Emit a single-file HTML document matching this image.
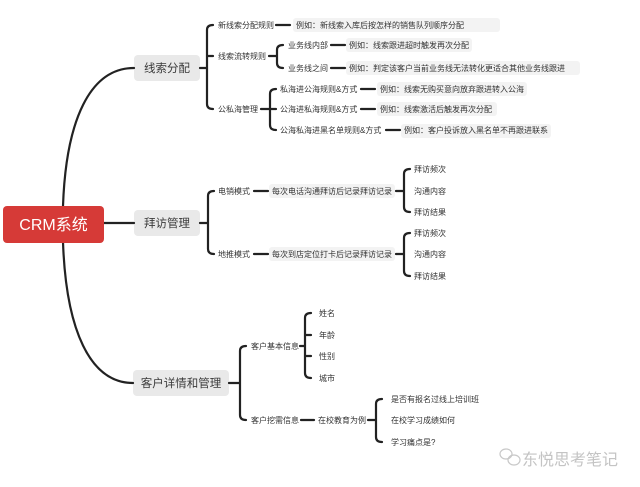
<!DOCTYPE html>
<html><head><meta charset="utf-8"><style>
html,body{margin:0;padding:0;background:#fff;}
svg{display:block;}
text{font-family:"Liberation Sans","Noto Sans CJK SC",sans-serif;fill:#333;}
.s{font-size:8px;}
.l1{font-size:11.5px;fill:#3a3a3a;}
</style></head><body>
<svg width="640" height="487" viewBox="0 0 640 487" xmlns="http://www.w3.org/2000/svg">
<g fill="#f3f3f3">
<rect x="134" y="55" width="66" height="26" rx="4" fill="#e9e9e9"/>
<rect x="134" y="210" width="66" height="26" rx="4" fill="#e9e9e9"/>
<rect x="133" y="370" width="96" height="26" rx="4" fill="#e9e9e9"/>
<rect x="293" y="18" width="207" height="14" rx="3"/>
<rect x="346" y="38" width="126" height="14" rx="3"/>
<rect x="346" y="61" width="234" height="14" rx="3"/>
<rect x="377" y="82" width="150" height="14" rx="3"/>
<rect x="377" y="102" width="120" height="14" rx="3"/>
<rect x="401" y="124" width="150" height="14" rx="3"/>
<rect x="269" y="184" width="126" height="14" rx="3"/>
<rect x="269" y="247" width="126" height="14" rx="3"/>
</g>
<g fill="none" stroke="#222" stroke-width="2.2" stroke-linecap="round">
<path d="M63 206 C66 120 90 68 134 68"/>
<path d="M104 223 L134 223"/>
<path d="M63 242 C66 330 90 383 133 383"/>
<path d="M200 68 L207 68"/>
<path d="M213 25 Q207 25 207 30 L207 104 Q207 109 213 109 M207 56 L213 56"/>
<path d="M276 25 L290 25"/>
<path d="M269 56 L277 56 M283 45 Q277 45 277 50 L277 63 Q277 68 283 68"/>
<path d="M331 45 L345 45 M331 68 L345 68"/>
<path d="M261 109 L270 109 M276 89 Q270 89 270 94 L270 125 Q270 130 276 130 M270 109 L276 109"/>
<path d="M361 89 L375 89 M361 109 L375 109 M386 130 L400 130"/>
<path d="M200 223 L208 223 M214 191 Q208 191 208 196 L208 249 Q208 254 214 254"/>
<path d="M254 191 L268 191 M254 254 L268 254"/>
<path d="M396 191 L404 191 M410 169 Q404 169 404 174 L404 207 Q404 212 410 212"/>
<path d="M396 254 L404 254 M410 233 Q404 233 404 238 L404 271 Q404 276 410 276"/>
<path d="M229 383 L240 383 M246 346 Q240 346 240 351 L240 415 Q240 420 246 420"/>
<path d="M300 346 L305 346 M311 313 Q305 313 305 318 L305 373 Q305 378 311 378 M305 335 L311 335 M305 356 L311 356"/>
<path d="M301 420 L314 420"/>
<path d="M368 420 L376 420 M382 399 Q376 399 376 404 L376 437 Q376 442 382 442"/>
</g>
<rect x="3" y="206" width="101" height="37" rx="4" fill="#d63a37"/>
<text x="53.5" y="230" text-anchor="middle" style="font-size:16px;fill:#fff">CRM系统</text>
<text class="l1" x="167" y="72" text-anchor="middle">线索分配</text>
<text class="l1" x="167" y="227" text-anchor="middle">拜访管理</text>
<text class="l1" x="181" y="387" text-anchor="middle">客户详情和管理</text>
<g class="s">
<text class="s" x="218" y="28">新线索分配规则</text>
<text class="s" x="296" y="28">例如：新线索入库后按怎样的销售队列顺序分配</text>
<text class="s" x="218" y="59">线索流转规则</text>
<text class="s" x="288" y="48">业务线内部</text>
<text class="s" x="349" y="48">例如：线索跟进超时触发再次分配</text>
<text class="s" x="288" y="71">业务线之间</text>
<text class="s" x="349" y="71">例如：判定该客户当前业务线无法转化更适合其他业务线跟进</text>
<text class="s" x="218" y="112">公私海管理</text>
<text class="s" x="280" y="92">私海进公海规则&amp;方式</text>
<text class="s" x="380" y="92">例如：线索无购买意向放弃跟进转入公海</text>
<text class="s" x="280" y="112">公海进私海规则&amp;方式</text>
<text class="s" x="380" y="112">例如：线索激活后触发再次分配</text>
<text class="s" x="280" y="133">公海私海进黑名单规则&amp;方式</text>
<text class="s" x="404" y="133">例如：客户投诉放入黑名单不再跟进联系</text>
<text class="s" x="218" y="194">电销模式</text>
<text class="s" x="272" y="194">每次电话沟通拜访后记录拜访记录</text>
<text class="s" x="218" y="257">地推模式</text>
<text class="s" x="272" y="257">每次到店定位打卡后记录拜访记录</text>
<text class="s" x="414" y="172">拜访频次</text>
<text class="s" x="414" y="194">沟通内容</text>
<text class="s" x="414" y="215">拜访结果</text>
<text class="s" x="414" y="236">拜访频次</text>
<text class="s" x="414" y="257">沟通内容</text>
<text class="s" x="414" y="279">拜访结果</text>
<text class="s" x="251" y="349">客户基本信息</text>
<text class="s" x="319" y="316">姓名</text>
<text class="s" x="319" y="338">年龄</text>
<text class="s" x="319" y="359">性别</text>
<text class="s" x="319" y="381">城市</text>
<text class="s" x="251" y="423">客户挖需信息</text>
<text class="s" x="318" y="423">在校教育为例</text>
<text class="s" x="391" y="402">是否有报名过线上培训班</text>
<text class="s" x="391" y="423">在校学习成绩如何</text>
<text class="s" x="391" y="445">学习痛点是?</text>
</g>
<g fill="none" stroke="#c8c8c8" stroke-width="1.2">
<ellipse cx="506" cy="454" rx="6" ry="5"/>
<ellipse cx="514" cy="460" rx="6" ry="5"/>
</g>
<text x="522" y="465" style="font-size:16px;fill:#c4c4c4">东悦思考笔记</text>
</svg>
</body></html>
